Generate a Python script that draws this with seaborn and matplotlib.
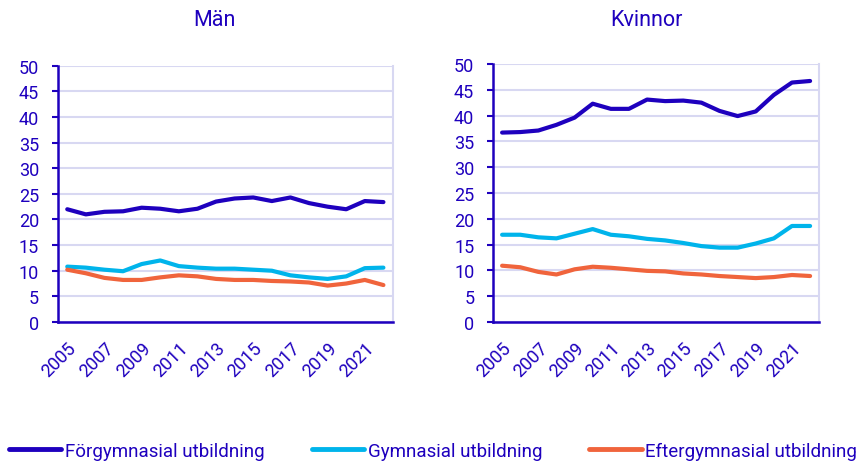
import numpy as np
import pandas as pd
import seaborn as sns
import matplotlib.pyplot as plt

years = [str(y) for y in range(2005, 2023)]
series_names = ["Förgymnasial utbildning", "Gymnasial utbildning", "Eftergymnasial utbildning"]

# Män
man_forgym = [22.0, 21.0, 21.5, 21.6, 22.3, 22.1, 21.6, 22.1, 23.5, 24.1, 24.3, 23.6, 24.3, 23.2, 22.5, 22.0, 23.6, 23.4]
man_gym = [10.8, 10.6, 10.2, 9.9, 11.3, 12.0, 10.9, 10.6, 10.4, 10.4, 10.2, 10.0, 9.1, 8.7, 8.4, 8.9, 10.5, 10.6]
man_efter = [10.2, 9.5, 8.6, 8.2, 8.2, 8.7, 9.1, 8.9, 8.4, 8.2, 8.2, 8.0, 7.9, 7.7, 7.1, 7.5, 8.2, 7.2]

# Kvinnor
kv_forgym = [36.7, 36.8, 37.1, 38.2, 39.6, 42.3, 41.3, 41.3, 43.1, 42.8, 42.9, 42.5, 40.9, 39.9, 40.8, 44.0, 46.4, 46.7]
kv_gym = [16.9, 16.9, 16.4, 16.2, 17.1, 18.0, 16.9, 16.6, 16.1, 15.8, 15.3, 14.7, 14.4, 14.4, 15.2, 16.2, 18.6, 18.6]
kv_efter = [10.9, 10.6, 9.7, 9.2, 10.2, 10.7, 10.5, 10.2, 9.9, 9.8, 9.4, 9.2, 8.9, 8.7, 8.5, 8.7, 9.1, 8.9]

yticks = list(range(0, 51, 5))

colors = ["#1E00BE", "#00B4EB", "#F0643C"]
text_color = "#1E00BE"
grid_color = "#D8D8F2"


def make_df(a, b, c):
    rows = []
    for name, vals in zip(series_names, [a, b, c]):
        for yr, v in zip(years, vals):
            rows.append({"year": yr, "value": v, "serie": name})
    return pd.DataFrame(rows)


sns.set_theme(style="white")
plt.rcParams['font.family'] = ['Roboto', 'DejaVu Sans']

fig = plt.figure(figsize=(8.65, 4.64), dpi=100)
ax1 = fig.add_axes([0.067, 0.304, 0.387, 0.552])
ax2 = fig.add_axes([0.570, 0.304, 0.377, 0.556])

panels = [(ax1, make_df(man_forgym, man_gym, man_efter)),
          (ax2, make_df(kv_forgym, kv_gym, kv_efter))]

for ax, df in panels:
    sns.lineplot(data=df, x="year", y="value", hue="serie", palette=colors,
                 linewidth=3.0, ax=ax, legend=False, sort=False)
    ax.set_xlim(-0.5, len(years) - 0.5)
    ax.set_ylim(0, 50)
    ax.set_yticks(yticks)
    ax.set_xticks(range(0, len(years), 2))
    ax.set_xticklabels(years[::2], rotation=45, ha='right', rotation_mode='anchor')
    ax.set_xticks(np.arange(-0.5, len(years), 1.0), minor=True)
    ax.tick_params(axis='x', which='major', length=0, pad=12, labelsize=13, colors=text_color)
    ax.tick_params(axis='x', which='minor', length=5, width=1.5, color=text_color, direction='out')
    ax.tick_params(axis='y', length=4.5, width=1.5, color=text_color, labelcolor=text_color,
                   labelsize=13, pad=9, left=True)
    ax.yaxis.grid(True, color=grid_color, linewidth=1.5)
    ax.set_axisbelow(True)
    ax.set_xlabel("")
    ax.set_ylabel("")
    ax.spines['top'].set_visible(False)
    ax.spines['right'].set_color(grid_color)
    ax.spines['right'].set_linewidth(1.5)
    ax.spines['left'].set_color(text_color)
    ax.spines['bottom'].set_color(text_color)
    ax.spines['left'].set_linewidth(1.8)
    ax.spines['bottom'].set_linewidth(1.8)

fig.text(214 / 865, 1 - 20 / 464, "Män", ha='center', va='center', fontsize=15.5, color=text_color)
fig.text(646 / 865, 1 - 20 / 464, "Kvinnor", ha='center', va='center', fontsize=15.5, color=text_color)

handles = [plt.Line2D([], [], color=c, linewidth=3.5) for c in colors]
fig.legend(handles, series_names, loc='center', bbox_to_anchor=(433 / 865, 1 - 452 / 464),
           ncol=3, frameon=False, fontsize=13.5, labelcolor=text_color,
           handlelength=2.8, handletextpad=0.2, columnspacing=2.5,
           borderaxespad=0, borderpad=0)

fig.savefig("out.png", dpi=100)
